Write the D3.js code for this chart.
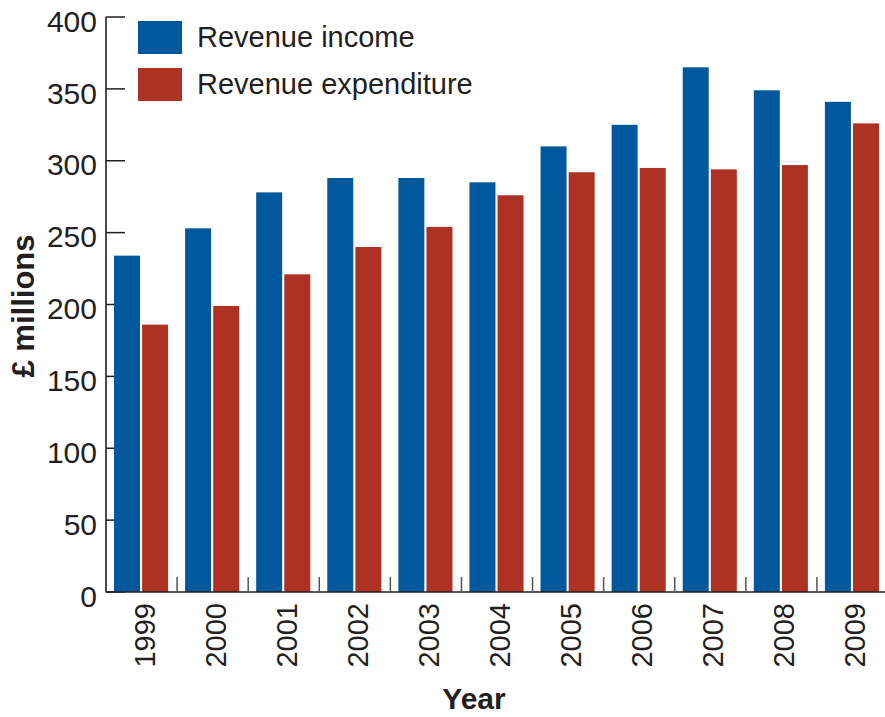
<!DOCTYPE html>
<html><head><meta charset="utf-8">
<script src="https://cdn.jsdelivr.net/npm/d3@7"></script>
<style>body{margin:0;background:#fff}svg{display:block}text{font-family:"Liberation Sans",Arial,sans-serif;fill:#231f20}</style>
</head><body><svg id="c" width="885" height="717"></svg>
<script>
const years = ["1999","2000","2001","2002","2003","2004","2005","2006","2007","2008","2009"];
const revenueIncome = [234,253,278,288,288,285,310,325,365,349,341];
const revenueExpenditure = [186,199,221,240,254,276,292,295,294,297,326];
const seriesNames = ["Revenue income","Revenue expenditure"];
const yTicks = [0,50,100,150,200,250,300,350,400];

const colors = ["#02589c","#ae3224"];
const svg = d3.select("#c");
const x0 = 106, x1 = 888, yTop = 17, yBot = 592;
const x = d3.scaleBand().domain(years).range([x0,x1]).padding(0);
const y = d3.scaleLinear().domain([0,400]).range([yBot,yTop]);
const inner = d3.scaleBand().domain([0,1]).range([8, x.bandwidth()-9]).paddingInner(0.075);
const ink = "#231f20";

// y ticks (under bars)
svg.append("g").selectAll("line").data(yTicks).join("line")
  .attr("x1",x0).attr("x2",x0+19).attr("y1",d=>y(d)).attr("y2",d=>y(d))
  .attr("stroke",ink).attr("stroke-width",1.5);
svg.append("g").selectAll("text").data(yTicks).join("text")
  .attr("x",97).attr("y",d=>y(d)+14.7).attr("text-anchor","end")
  .attr("font-size",30).text(d=>d);

// bars
const data = years.map((yr,i)=>({yr, vals:[revenueIncome[i],revenueExpenditure[i]]}));
const g = svg.append("g").selectAll("g").data(data).join("g")
  .attr("transform",d=>`translate(${x(d.yr)},0)`);
g.selectAll("rect").data(d=>d.vals.map((v,k)=>({v,k}))).join("rect")
  .attr("x",d=>inner(d.k)).attr("width",inner.bandwidth())
  .attr("y",d=>y(d.v)).attr("height",d=>yBot-y(d.v))
  .attr("fill",d=>colors[d.k]);

// axes lines
svg.append("line").attr("x1",x0).attr("x2",x0).attr("y1",yTop).attr("y2",yBot+0.5)
  .attr("stroke",ink).attr("stroke-width",1.6);
svg.append("line").attr("x1",x0).attr("x2",885).attr("y1",yBot).attr("y2",yBot)
  .attr("stroke",ink).attr("stroke-width",1.6);
svg.append("g").selectAll("line").data(years.slice(1)).join("line")
  .attr("x1",d=>x(d)).attr("x2",d=>x(d)).attr("y1",yBot).attr("y2",yBot-15)
  .attr("stroke","#555").attr("stroke-width",1.5);

// x labels
svg.append("g").selectAll("text").data(years).join("text")
  .attr("transform",d=>`translate(${x(d)+x.bandwidth()/2+13},603) rotate(-90)`)
  .attr("text-anchor","end").attr("font-size",29).text(d=>d);

// axis titles
svg.append("text").attr("transform","translate(34,306) rotate(-90)")
  .attr("text-anchor","middle").attr("font-size",31).attr("font-weight","bold").text("£ millions");
svg.append("text").attr("x",474).attr("y",709).attr("text-anchor","middle")
  .attr("font-size",30).attr("font-weight","bold").text("Year");

// legend
const lg = svg.append("g").selectAll("g").data(seriesNames).join("g")
  .attr("transform",(d,i)=>`translate(138,${21+i*47})`);
lg.append("rect").attr("width",44).attr("height",33).attr("fill",(d,i)=>colors[i]);
lg.append("text").attr("x",59).attr("y",26).attr("font-size",29).text(d=>d);
</script></body></html>
